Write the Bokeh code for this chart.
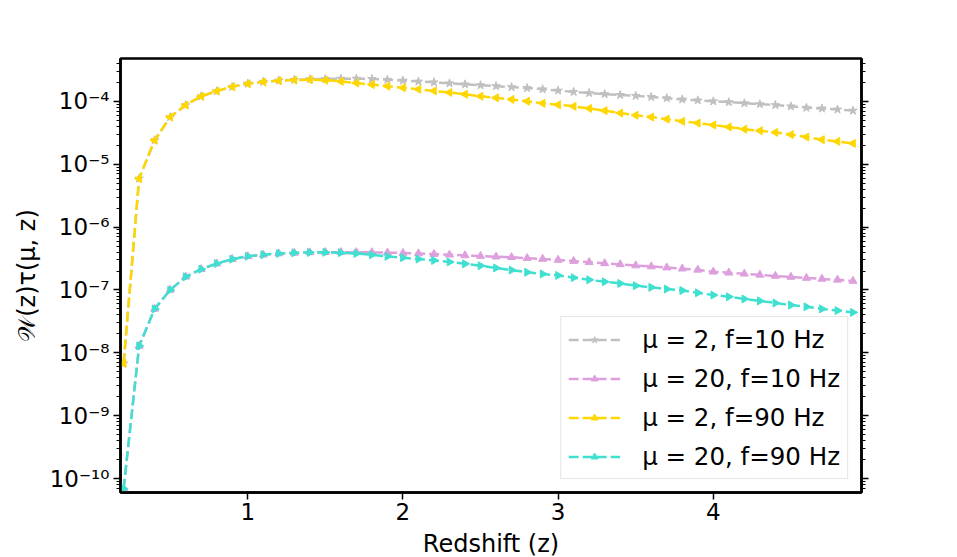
import numpy as np
from bokeh.plotting import figure
from bokeh.models import (Range1d, FixedTicker, LogAxis, CustomJSTickFormatter,
                          Legend, LegendItem)
from bokeh.embed import file_html
from bokeh.resources import INLINE

# ---------------- data ----------------
redshift = [0.2, 0.3, 0.4, 0.5, 0.6, 0.7, 0.8, 0.9, 1.0, 1.1, 1.2, 1.3, 1.4, 1.5,
            1.6, 1.7, 1.8, 1.9, 2.0, 2.1, 2.2, 2.3, 2.4, 2.5, 2.6, 2.7, 2.8, 2.9,
            3.0, 3.1, 3.2, 3.3, 3.4, 3.5, 3.6, 3.7, 3.8, 3.9, 4.0, 4.1, 4.2, 4.3,
            4.4, 4.5, 4.6, 4.7, 4.8, 4.9]

mu2_f10 = [6.8e-9, 5.9e-6, 2.4e-5, 5.6e-5, 8.7e-5, 1.20e-4, 1.45e-4, 1.70e-4,
           1.91e-4, 2.04e-4, 2.14e-4, 2.19e-4, 2.24e-4, 2.26e-4, 2.29e-4, 2.29e-4,
           2.26e-4, 2.20e-4, 2.13e-4, 2.06e-4, 2.00e-4, 1.93e-4, 1.86e-4, 1.80e-4,
           1.74e-4, 1.68e-4, 1.62e-4, 1.55e-4, 1.48e-4, 1.41e-4, 1.35e-4, 1.30e-4,
           1.26e-4, 1.22e-4, 1.17e-4, 1.12e-4, 1.07e-4, 1.035e-4, 1.00e-4, 9.7e-5,
           9.3e-5, 9.0e-5, 8.7e-5, 8.3e-5, 7.9e-5, 7.7e-5, 7.4e-5, 7.1e-5]

mu20_f10 = [6.9e-11, 1.29e-8, 5.0e-8, 1.0e-7, 1.62e-7, 2.14e-7, 2.63e-7, 3.09e-7,
            3.43e-7, 3.63e-7, 3.80e-7, 3.89e-7, 3.95e-7, 3.98e-7, 3.98e-7, 3.98e-7,
            3.96e-7, 3.92e-7, 3.87e-7, 3.80e-7, 3.72e-7, 3.63e-7, 3.54e-7, 3.46e-7,
            3.38e-7, 3.31e-7, 3.21e-7, 3.11e-7, 3.00e-7, 2.88e-7, 2.76e-7, 2.65e-7,
            2.55e-7, 2.45e-7, 2.36e-7, 2.27e-7, 2.18e-7, 2.09e-7, 1.95e-7, 1.88e-7,
            1.81e-7, 1.74e-7, 1.67e-7, 1.61e-7, 1.55e-7, 1.50e-7, 1.45e-7, 1.39e-7]

mu2_f90 = [6.8e-9, 5.9e-6, 2.4e-5, 5.6e-5, 8.7e-5, 1.20e-4, 1.45e-4, 1.70e-4,
           1.90e-4, 2.03e-4, 2.12e-4, 2.17e-4, 2.20e-4, 2.16e-4, 2.07e-4, 1.95e-4,
           1.84e-4, 1.74e-4, 1.64e-4, 1.55e-4, 1.46e-4, 1.38e-4, 1.29e-4, 1.20e-4,
           1.135e-4, 1.07e-4, 1.00e-4, 9.3e-5, 8.8e-5, 8.3e-5, 7.7e-5, 7.1e-5,
           6.5e-5, 6.0e-5, 5.6e-5, 5.2e-5, 4.8e-5, 4.5e-5, 4.2e-5, 3.9e-5,
           3.6e-5, 3.4e-5, 3.2e-5, 2.95e-5, 2.7e-5, 2.45e-5, 2.3e-5, 2.14e-5]

mu20_f90 = [6.9e-11, 1.29e-8, 5.0e-8, 1.0e-7, 1.62e-7, 2.14e-7, 2.63e-7, 3.09e-7,
            3.43e-7, 3.63e-7, 3.80e-7, 3.89e-7, 3.95e-7, 3.96e-7, 3.92e-7, 3.80e-7,
            3.62e-7, 3.42e-7, 3.26e-7, 3.10e-7, 2.95e-7, 2.79e-7, 2.60e-7, 2.43e-7,
            2.24e-7, 2.07e-7, 1.91e-7, 1.80e-7, 1.70e-7, 1.57e-7, 1.45e-7, 1.35e-7,
            1.27e-7, 1.17e-7, 1.10e-7, 1.035e-7, 9.8e-8, 9.0e-8, 8.3e-8, 7.8e-8,
            7.2e-8, 6.7e-8, 6.2e-8, 5.75e-8, 5.4e-8, 5.0e-8, 4.7e-8, 4.4e-8]

labels = ["\u03bc = 2, f=10 Hz", "\u03bc = 20, f=10 Hz",
          "\u03bc = 2, f=90 Hz", "\u03bc = 20, f=90 Hz"]
x_ticks = [1, 2, 3, 4]
y_ticks = [1e-10, 1e-9, 1e-8, 1e-7, 1e-6, 1e-5, 1e-4]
x_label = "Redshift (z)"
y_label = "\U0001D4B2(z)\u03c4(\u03bc, z)"

# ---------------- figure ----------------
FONT = "DejaVu Sans"
p = figure(frame_width=741, frame_height=434,
           min_border_left=120, min_border_right=80,
           min_border_top=58, min_border_bottom=50,
           y_axis_type="log",
           x_range=Range1d(0.18, 4.955),
           y_range=Range1d(10 ** -10.22, 10 ** -3.32),
           output_backend="svg", toolbar_location=None,
           background_fill_color="white", border_fill_color="white")

p.xgrid.visible = False
p.ygrid.visible = False
p.outline_line_color = "black"
p.outline_line_width = 2.5
p.outline_line_alpha = 1.0

minor = []
for d in range(-11, -3):
    for m in range(2, 10):
        minor.append(m * 10.0 ** d)

p.xaxis.ticker = FixedTicker(ticks=x_ticks)
p.yaxis.ticker = FixedTicker(ticks=y_ticks, minor_ticks=minor)

sup_js = """
const sup = {"-":"\u207b","0":"\u2070","1":"\u00b9","2":"\u00b2","3":"\u00b3",
             "4":"\u2074","5":"\u2075","6":"\u2076","7":"\u2077","8":"\u2078","9":"\u2079"};
const e = Math.round(Math.log10(tick));
return "10" + String(e).split("").map(c => sup[c]).join("");
"""
p.yaxis.formatter = CustomJSTickFormatter(code=sup_js)

for ax in (p.xaxis[0], p.yaxis[0]):
    ax.axis_line_color = "black"
    ax.axis_line_width = 2.5
    ax.major_tick_line_width = 1.5
    ax.major_tick_line_color = "black"
    ax.major_tick_out = 7
    ax.major_tick_in = 0
    ax.minor_tick_out = 4
    ax.minor_tick_in = 0
    ax.minor_tick_line_width = 1
    ax.major_label_text_font = FONT
    ax.major_label_text_font_size = "23px"
    ax.major_label_text_color = "black"
    ax.axis_label_text_font = FONT
    ax.axis_label_text_font_size = "24px"
    ax.axis_label_text_font_style = "normal"
    ax.axis_label_text_color = "black"

p.xaxis.minor_tick_line_color = None
p.xaxis.axis_label = x_label
p.xaxis.major_label_standoff = 3
p.xaxis.axis_label_standoff = 7
p.yaxis.axis_label = y_label
p.yaxis.major_label_standoff = 4
p.yaxis.axis_label_standoff = 6

right = LogAxis(ticker=FixedTicker(ticks=y_ticks, minor_ticks=minor),
                formatter=CustomJSTickFormatter(code="return '';"),
                axis_line_color="black", axis_line_width=2.5,
                major_tick_out=7, major_tick_in=0, major_tick_line_width=1.5,
                minor_tick_out=4, minor_tick_in=0, minor_tick_line_width=1,
                major_label_text_font_size="1px")
p.add_layout(right, "right")

series = [
    (mu2_f10, "#c0c0c0", "star", 0.0, 9),
    (mu20_f10, "#dda0dd", "triangle", 0.0, 8),
    (mu2_f90, "#ffd700", "triangle", np.pi / 2, 8),
    (mu20_f90, "#40e0d0", "triangle", -np.pi / 2, 8),
]

items = []
for (vals, col, mk, ang, sz), lab in zip(series, labels):
    lr = p.line(redshift, vals, line_color=col, line_width=2.5, line_dash="10 4")
    sr = p.scatter(redshift, vals, marker=mk, angle=ang, size=sz,
                   fill_color=col, line_color=col)
    items.append(LegendItem(label=lab, renderers=[lr, sr]))

legend = Legend(items=items, location="bottom_right",
                label_text_font=FONT, label_text_font_size="24.5px",
                label_text_color="black",
                glyph_width=52, glyph_height=17, label_height=30,
                label_standoff=22, spacing=9, padding=7, margin=13,
                border_line_color="#cccccc", border_line_width=1.2,
                background_fill_color="white", background_fill_alpha=0.8)
p.add_layout(legend, "center")

open("out.html", "w").write(file_html(p, INLINE))
